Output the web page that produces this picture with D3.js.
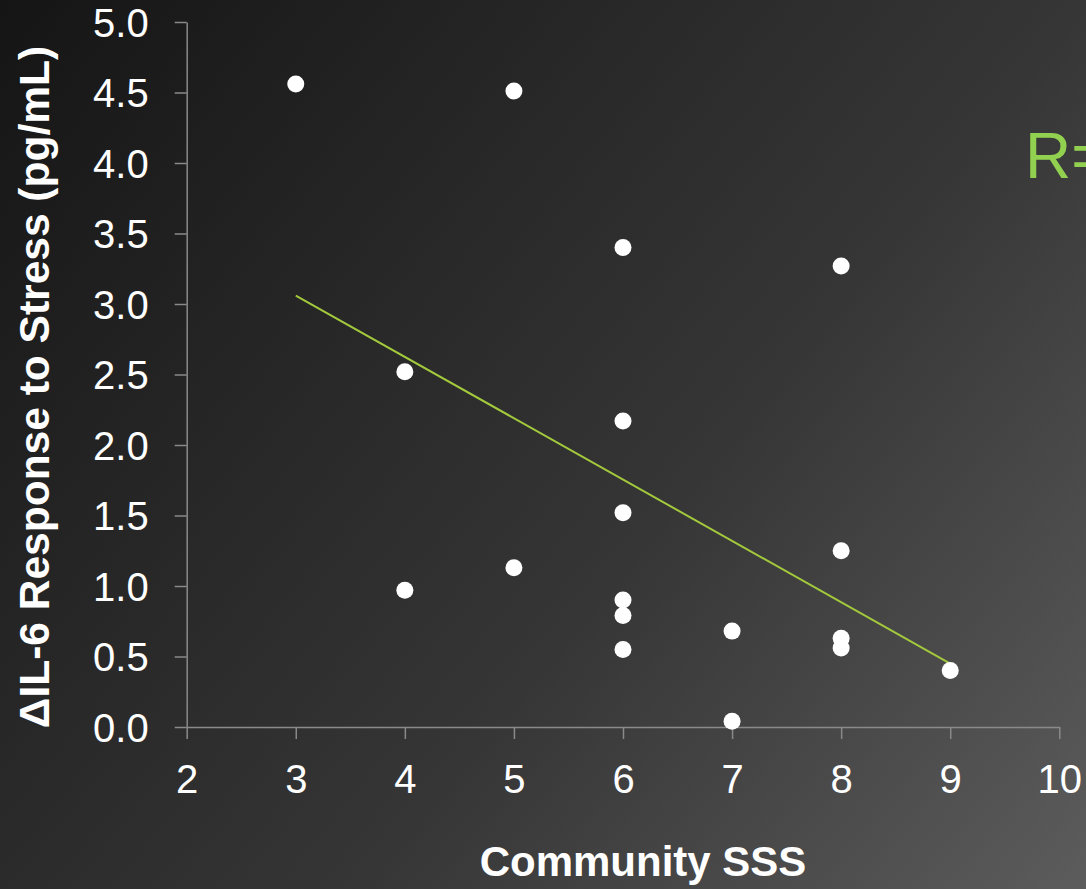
<!DOCTYPE html>
<html>
<head>
<meta charset="utf-8">
<script src="https://cdn.jsdelivr.net/npm/d3@7/dist/d3.min.js"></script>
<style>
  html, body { margin: 0; padding: 0; background: #222; }
  svg { display: block; }
  text { font-family: "Liberation Sans", Arial, Helvetica, sans-serif; }
</style>
</head>
<body>
<svg id="chart" width="1086" height="889"></svg>
<script>
// Data
const sss = [3, 5, 6, 8, 4, 6, 6, 8, 5, 4, 6, 6, 7, 8, 8, 6, 9, 7];
const il6 = [4.56, 4.51, 3.40, 3.27, 2.52, 2.17, 1.52, 1.25, 1.13, 0.97, 0.90, 0.79, 0.68, 0.63, 0.56, 0.55, 0.40, 0.04];
const trendX = [3, 9];
const trendY = [3.06, 0.45];
const xTicks = [2, 3, 4, 5, 6, 7, 8, 9, 10];
const yTicks = [0, 0.5, 1, 1.5, 2, 2.5, 3, 3.5, 4, 4.5, 5];
const xTitle = "Community SSS";
const yTitle = "ΔIL-6 Response to Stress (pg/mL)";
const rLabel = "R=";

const W = 1086, H = 889;
const m = { left: 186.7, top: 22, right: 26.7, bottom: 162 };
const svg = d3.select("#chart");

// background gradient
const defs = svg.append("defs");
const grad = defs.append("linearGradient").attr("id", "bg")
  .attr("gradientUnits", "userSpaceOnUse")
  .attr("x1", 0).attr("y1", 0).attr("x2", W).attr("y2", H);
grad.append("stop").attr("offset", 0).attr("stop-color", "#151515");
grad.append("stop").attr("offset", 0.6).attr("stop-color", "#363636");
grad.append("stop").attr("offset", 1).attr("stop-color", "#5c5c5c");
svg.append("rect").attr("width", W).attr("height", H).attr("fill", "url(#bg)");

const x = d3.scaleLinear().domain([2, 10]).range([m.left, W - m.right]);
const y = d3.scaleLinear().domain([0, 5]).range([H - m.bottom, m.top]);

const axisColor = "#8a8a8a";

// Y axis
const gy = svg.append("g").attr("transform", `translate(${m.left},0)`)
  .call(d3.axisLeft(y).tickValues(yTicks).tickFormat(d3.format(".1f")).tickSize(12).tickSizeOuter(0).tickPadding(26));
gy.select(".domain").attr("stroke", axisColor).attr("stroke-width", 1.5);
gy.selectAll(".tick line").attr("stroke", axisColor).attr("stroke-width", 1.5);
gy.selectAll(".tick text").attr("fill", "#ffffff").attr("font-size", 40)
  .attr("font-family", "'Liberation Sans', Arial, sans-serif").attr("dy", "0.35em");

// X axis
const gx = svg.append("g").attr("transform", `translate(0,${H - m.bottom})`)
  .call(d3.axisBottom(x).tickValues(xTicks).tickFormat(d3.format("d")).tickSize(12).tickSizeOuter(0).tickPadding(26));
gx.select(".domain").attr("stroke", axisColor).attr("stroke-width", 1.5);
gx.selectAll(".tick line").attr("stroke", axisColor).attr("stroke-width", 1.5);
gx.selectAll(".tick text").attr("fill", "#ffffff").attr("font-size", 40)
  .attr("font-family", "'Liberation Sans', Arial, sans-serif").attr("dy", "0.71em");

// trend line
svg.append("path")
  .datum(trendX.map((d, i) => [d, trendY[i]]))
  .attr("fill", "none").attr("stroke", "#a3c93c").attr("stroke-width", 2)
  .attr("d", d3.line().x(d => x(d[0])).y(d => y(d[1])));

// points
svg.append("g").selectAll("circle")
  .data(sss.map((d, i) => [d, il6[i]]))
  .join("circle")
  .attr("cx", d => x(d[0])).attr("cy", d => y(d[1])).attr("r", 8.5)
  .attr("fill", "#ffffff");

// axis titles
svg.append("text")
  .attr("x", 643)
  .attr("y", 876)
  .attr("text-anchor", "middle")
  .attr("font-weight", "bold").attr("font-size", 42).attr("fill", "#ffffff")
  .text(xTitle);

svg.append("text")
  .attr("transform", `translate(49,387) rotate(-90)`)
  .attr("text-anchor", "middle")
  .attr("font-weight", "bold").attr("font-size", 42.5).attr("fill", "#ffffff")
  .text(yTitle);

// R label (clipped at right edge as in the reference)
svg.append("text")
  .attr("x", 1025).attr("y", 178)
  .attr("font-size", 64).attr("fill", "#92d050")
  .text(rLabel);
</script>
</body>
</html>
